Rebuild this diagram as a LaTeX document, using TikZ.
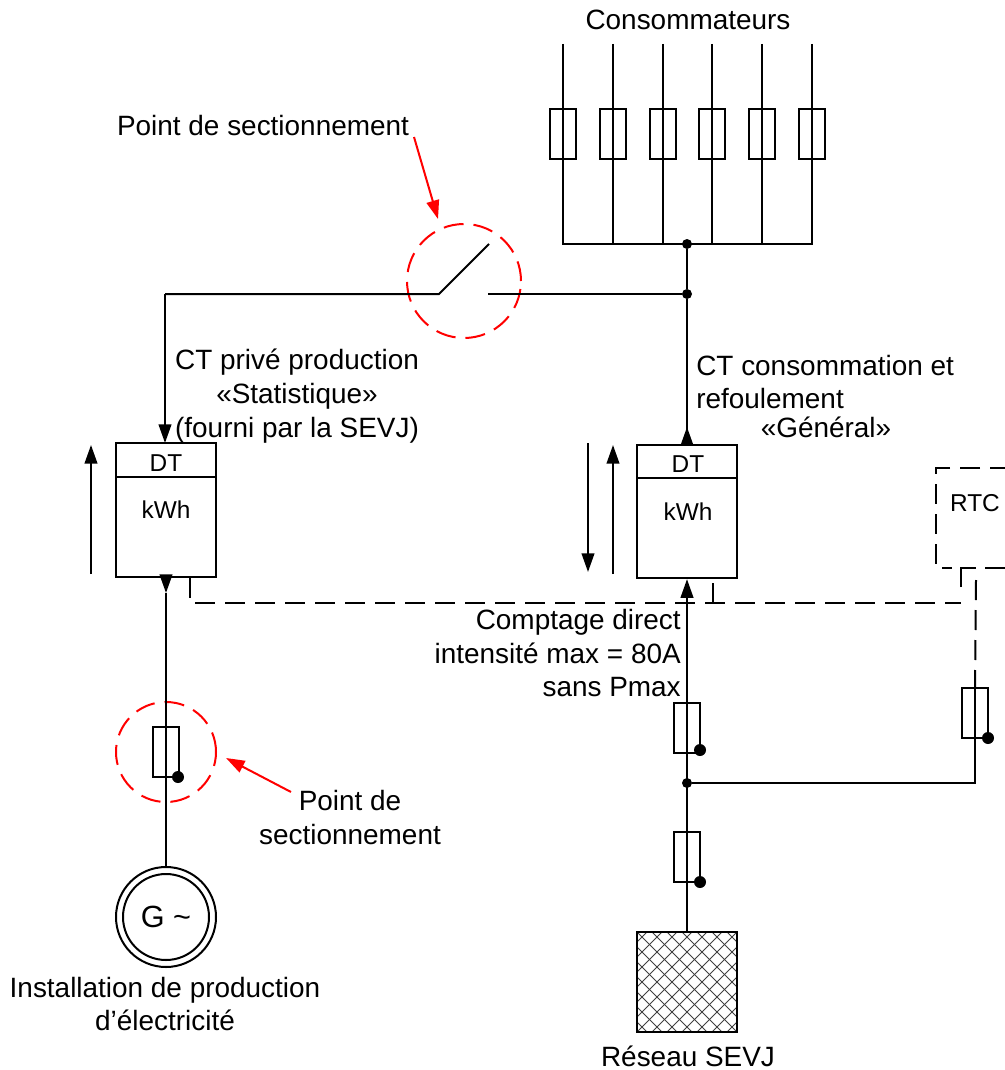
\documentclass[tikz,border=0pt]{standalone}
\usepackage{fontspec}
\setmainfont{Liberation Sans}
\usetikzlibrary{arrows.meta}
\tikzset{
  wire/.style={line width=1.5pt,black},
  lbl/.style={inner sep=0pt,anchor=base,font=\fontsize{20.95pt}{24pt}\selectfont},
  lblleft/.style={lbl,anchor=base west},
  lblright/.style={lbl,anchor=base east},
  small/.style={inner sep=0pt,anchor=base,font=\fontsize{18.3pt}{22pt}\selectfont},
  fuse/.style={draw,line width=1.5pt,minimum width=19.5pt,minimum height=37.5pt,inner sep=0pt},
  meter/.style={draw,line width=1.5pt,minimum width=75pt,minimum height=100pt,inner sep=0pt},
  dot/.style={circle,fill=black,minimum size=#1,inner sep=0pt},
  headb/.style={-{Triangle[length=14pt,width=9.5pt]}},
  headr/.style={-{Triangle[length=14pt,width=9.5pt]}},
  dash1/.style={wire,dash pattern=on 15pt off 7.5pt},
  redring/.style={draw=red,line width=1.5pt,circle,inner sep=0pt,dash pattern=on 15pt off 7.5pt},
  redarrow/.style={red,line width=1.5pt,headr},
  junction/.style={dot=7.5pt},
  knob/.style={dot=9pt}
}
\begin{document}
\begin{tikzpicture}[x=0.75pt,y=-0.75pt]
\useasboundingbox (0,0) rectangle (1004,1070);
% junctions
\node[junction] (jbus) at (687,244) {};
\node[junction] (jsw) at (687,294) {};
\node[junction] (jlow) at (687,783) {};
% consumer branches
\foreach \i/\x in {1/563,2/613,3/663,4/712,5/762,6/811.5}{
  \coordinate (top\i) at (\x,44);
  \coordinate (bot\i) at (\x,244);
  \node[fuse] (fc\i) at (\x,134) {};
  \draw[wire] (top\i) -- (bot\i);
}
\draw[wire,line cap=rect] (bot1) -- (bot6);
% switch
\coordinate (swa) at (439,294);
\coordinate (swb) at (489,244);
\coordinate (swc) at (488,294);
\coordinate (corner) at (165,294);
\node[redring,minimum size=85.5pt] (ringsw) at (464,281) {};
\draw[wire] (jbus) -- (jsw);
\draw[wire] (jsw) -- (swc);
\draw[wire] (swb) -- (swa) -- (corner);
% meters
\node[meter] (mL) at (166,510) {};
\node[meter] (mR) at (687,511.5) {};
\coordinate (dL) at (116,477); \coordinate (dLb) at (216,477);
\coordinate (dR) at (637,478); \coordinate (dRb) at (737,478);
\draw[wire] (dL) -- (dLb);
\draw[wire] (dR) -- (dRb);
\node[small] (dtL) at (166,471) {DT};
\node[small] (dtR) at (688,472) {DT};
\node[small] (kwhL) at (166,518) {kWh};
\node[small] (kwhR) at (688,520) {kWh};
% main wires into meters
\coordinate (mLt) at (166,443);
\draw[wire,headb] (corner) -- (corner |- mLt);
\coordinate (mRt) at (687,427);
\draw[wire] (jsw) -- (mR.north);
\draw[wire,headb] (mR.north) -- (mRt);
\coordinate (mLb) at (166,593);
\draw[wire,headb] (mL.south) -- (mLb);
% direction arrows
\coordinate (a1s) at (91,574); \coordinate (a1e) at (91,445);
\coordinate (a2s) at (588,443); \coordinate (a2e) at (588,572);
\coordinate (a3s) at (613,574); \coordinate (a3e) at (613,445);
\draw[wire,headb] (a1s) -- (a1e);
\draw[wire,headb] (a2s) -- (a2e);
\draw[wire,headb] (a3s) -- (a3e);
% left branch
\node[fuse] (fL) at (166,752) {};
\node[knob] (kL) at (178,777) {};
\node[redring,minimum size=75pt] (ringL) at (166,752) {};
\node[circle,draw,line width=1.5pt,minimum size=75pt,inner sep=0pt] (gout) at (166,917) {};
\node[circle,draw,line width=1.5pt,minimum size=64.5pt,inner sep=0pt] (gin) at (166,917) {};
\node[inner sep=0pt,font=\fontsize{23pt}{26pt}\selectfont] (glab) at (166,917) {G \raisebox{0pt}{\textasciitilde}};
\draw[wire] (mLb) -- (gout.north);
% right branch
\node[fuse] (fA) at (687,728) {};
\node[knob] (kA) at (700,750) {};
\node[fuse] (fB) at (687,857) {};
\node[knob] (kB) at (700,882) {};
\node[fuse] (fC) at (975,712.5) {};
\node[knob] (kC) at (988,738) {};
% network box
\begin{scope}
  \clip (637,932) rectangle (737,1032);
  \foreach \k in {-105,-90,...,105}{
    \draw[line width=0.7pt,black!75] (637+\k,932) -- ++(100,100);
    \draw[line width=0.7pt,black!75] (737+\k,932) -- ++(-100,100);
  }
\end{scope}
\node[draw,line width=1.5pt,minimum size=75pt,inner sep=0pt] (res) at (687,982) {};
\draw[wire,headb] (res.north) -- (mR.south);
\coordinate (fCbot) at (975,783);
\coordinate (fCtop) at (975,687);
\draw[wire] (jlow) -- (fCbot) -- (fCtop);
% RTC
\coordinate (r1) at (1010,468);
\coordinate (r2) at (936,468);
\coordinate (r3) at (936,568);
\coordinate (r3b) at (952,568);
\coordinate (r4) at (985,568);
\coordinate (r5) at (1006,568);
\draw[dash1] (r1) -- (r2) -- (r3) -- (r3b);
\draw[wire] (r4) -- (r5);
\node[small] (rtc) at (975,511) {RTC};
% communication bus
\coordinate (c1) at (190,578);
\coordinate (c2) at (190,603);
\coordinate (c3) at (713,603);
\coordinate (c4) at (713,583);
\coordinate (c5) at (961,603);
\coordinate (c5b) at (961,587);
\coordinate (c6) at (961,568);
\coordinate (c7) at (976,568);
\coordinate (c8) at (976,580);
\draw[dash1] (c1) -- (c2) -- (c5);
\draw[wire] (c5b) -- (c6) -- (c7);
\draw[dash1] (c8) -- (fCtop);
\draw[wire] (c4) -- (c3);
% red arrows
\coordinate (ra1) at (414,137); \coordinate (ra2) at (438,219);
\coordinate (rb1) at (291,792); \coordinate (rb2) at (226,758);
\draw[redarrow] (ra1) -- (ra2);
\draw[redarrow] (rb1) -- (rb2);
% labels
\node[lbl] (tcons) at (688,30) {Consommateurs};
\node[lbl] (tpoint) at (263,136) {Point de sectionnement};
\node[lbl] (tct1) at (297,369) {CT privé production};
\node[lbl] (tct2) at (297,403) {«Statistique»};
\node[lbl] (tct3) at (297,437) {(fourni par la SEVJ)};
\node[lblleft] (tcg1) at (696,375) {CT consommation et};
\node[lblleft] (tcg2) at (696,408) {refoulement};
\node[lbl] (tcg3) at (826,437) {«Général»};
\node[lblright] (tcd1) at (681,629) {Comptage direct};
\node[lblright] (tcd2) at (681,663) {intensité max = 80A};
\node[lblright] (tcd3) at (681,696) {sans Pmax};
\node[lbl] (tp1) at (350,810) {Point de};
\node[lbl] (tp2) at (350,844) {sectionnement};
\node[lbl] (ti1) at (165,997) {Installation de production};
\node[lbl] (ti2) at (165,1030) {d’électricité};
\node[lbl] (tres) at (688,1066) {Réseau SEVJ};
\end{tikzpicture}
\end{document}
